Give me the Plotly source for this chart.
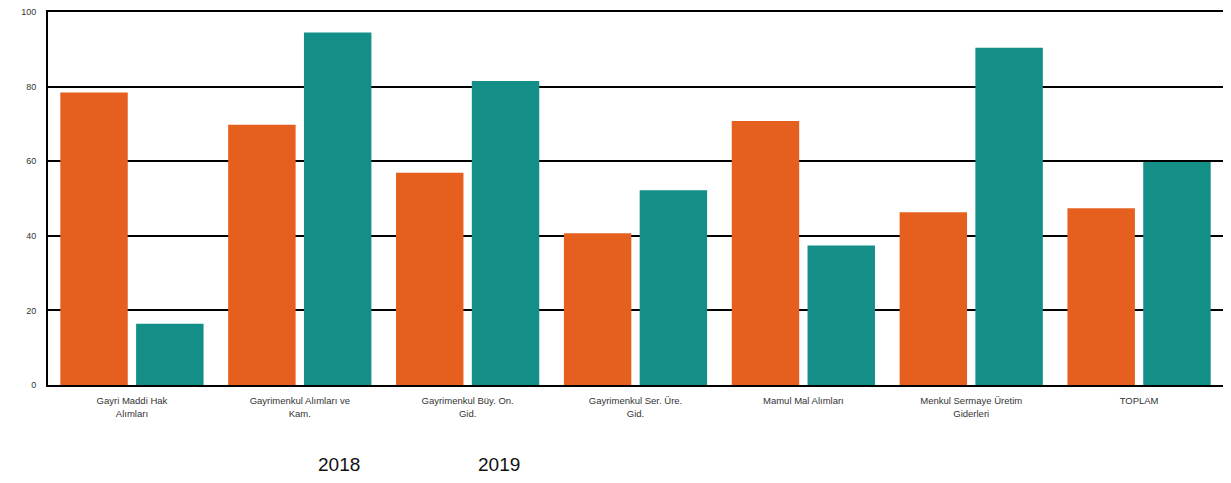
import plotly.graph_objects as go

categories = [
    "Gayri Maddi Hak<br>Alımları",
    "Gayrimenkul Alımları ve<br>Kam.",
    "Gayrimenkul Büy. On.<br>Gid.",
    "Gayrimenkul Ser. Üre.<br>Gid.",
    "Mamul Mal Alımları",
    "Menkul Sermaye Üretim<br>Giderleri",
    "TOPLAM",
]
series_names = ["2018", "2019"]
values_2018 = [78.4, 69.8, 56.9, 40.7, 70.8, 46.3, 47.4]
values_2019 = [16.4, 94.5, 81.5, 52.2, 37.4, 90.4, 59.8]
colors = ["#E5601F", "#138F88"]
y_ticks = [0, 20, 40, 60, 80, 100]

fig = go.Figure()
for name, vals, col in zip(series_names, [values_2018, values_2019], colors):
    fig.add_trace(go.Bar(x=categories, y=vals, name=name, marker=dict(color=col, line=dict(width=0)),
                         showlegend=False))

for i, name in enumerate(series_names):
    fig.add_annotation(text=name, xref="paper", yref="paper", x=[0.248, 0.384][i], y=-0.214,
                       showarrow=False, xanchor="center", yanchor="middle",
                       font=dict(family="Liberation Sans, Arial", size=19, color="#111"))

fig.update_layout(
    width=1223, height=475,
    margin=dict(l=40, r=8, t=4, b=98),
    paper_bgcolor="white", plot_bgcolor="white",
    barmode="group", bargap=0.097, bargroupgap=0.11,
    font=dict(family="Liberation Sans, Arial", size=9, color="#333"),
)
fig.update_xaxes(showline=True, linecolor="black", linewidth=2, mirror=True, automargin=False,
                 showgrid=False, ticks="", ticklabelstandoff=6, tickfont=dict(size=9.5, color="#333"))
fig.update_yaxes(range=[0, 100], tickvals=y_ticks, showline=True, linecolor="black", linewidth=2,
                 mirror=True, showgrid=True, gridcolor="black", gridwidth=1.5, zeroline=False,
                 automargin=False, ticks="", ticklabelstandoff=8, ticklabeloverflow="allow",
                 tickfont=dict(size=9, color="#333"))

fig.write_html("out.html")
